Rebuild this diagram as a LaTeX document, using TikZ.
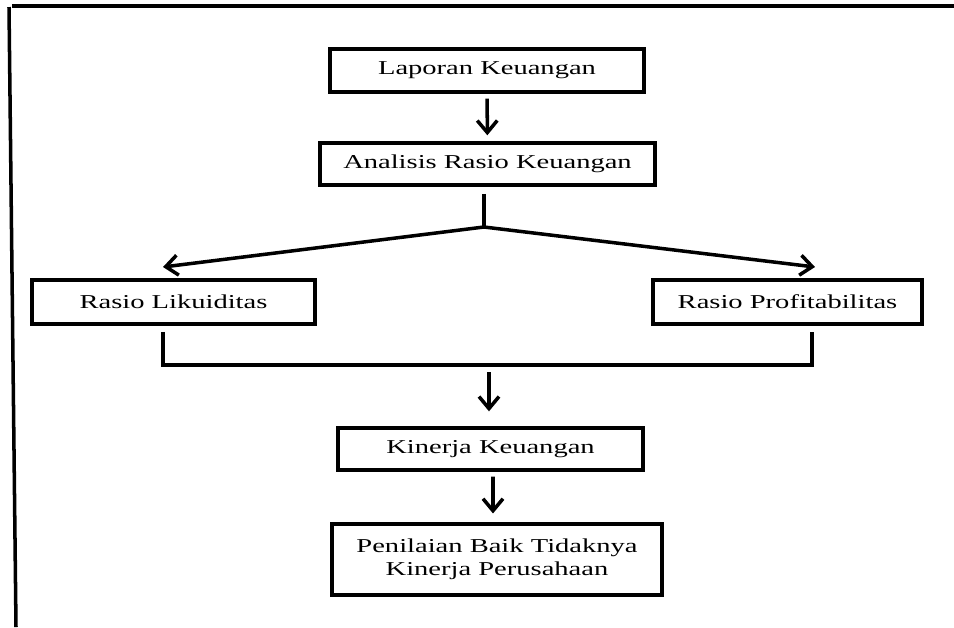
\documentclass[tikz,border=0pt]{standalone}
\usepackage{fontspec}
\setmainfont{Liberation Serif}[FakeStretch=1.45]
\usetikzlibrary{arrows.meta,calc}
\tikzset{
  bx/.style = {draw, line width=2pt, align=center, inner sep=0pt,
               font=\fontsize{11.2}{13.1}\selectfont},
  ln/.style = {line width=2pt},
  ar/.style = {ln, -{Straight Barb[length=2.4mm,width=4mm]}},
}

\begin{document}
\begin{tikzpicture}[x=0.02cm, y=-0.02cm]
  \useasboundingbox (0,0) rectangle (954,627);
  \draw[ln] (954,6) -- (12,6);
  \draw[ln] (9,7) -- (16,627);

  \node[bx, minimum width=6.28cm, minimum height=0.86cm] (lap) at (487,70.5)  {Laporan Keuangan};
  \node[bx, minimum width=6.7cm,  minimum height=0.84cm] (ana) at (487.5,164) {Analisis Rasio Keuangan};
  \node[bx, minimum width=5.66cm, minimum height=0.88cm] (lik) at (173.5,302) {Rasio Likuiditas};
  \node[bx, minimum width=5.38cm, minimum height=0.88cm] (pro) at (787.5,302) {Rasio Profitabilitas};
  \node[bx, minimum width=6.1cm,  minimum height=0.84cm] (kin) at (490.5,449) {Kinerja Keuangan};
  \node[bx, minimum width=6.6cm,  minimum height=1.42cm] (pen) at (497,559.5) {Penilaian Baik Tidaknya\\ Kinerja Perusahaan};

  \coordinate (j)  at (484,227);
  \coordinate (tl) at (163,267);
  \coordinate (tr) at (815,267);
  \coordinate (m)  at (489,365);

  \draw[ar, shorten <=2.8pt, shorten >=3.4pt] (lap) -- (ana);
  \draw[ln, shorten <=4pt] (j |- ana.south) -- (j);
  \draw[ar] (j) -- (tl);
  \draw[ar] (j) -- (tr);
  \draw[ln] ($(lik.south)+(-10.5,6)$) |- (m) -| ($(pro.south)+(24.5,6)$);
  \draw[ar, shorten <=4pt, shorten >=8.5pt] (m) -- (m |- kin.north);
  \draw[ar, shorten <=2.8pt, shorten >=5pt] ($(kin.south)+(2.5,0)$) -- ($(pen.north)+(-4,0)$);
\end{tikzpicture}
\end{document}
